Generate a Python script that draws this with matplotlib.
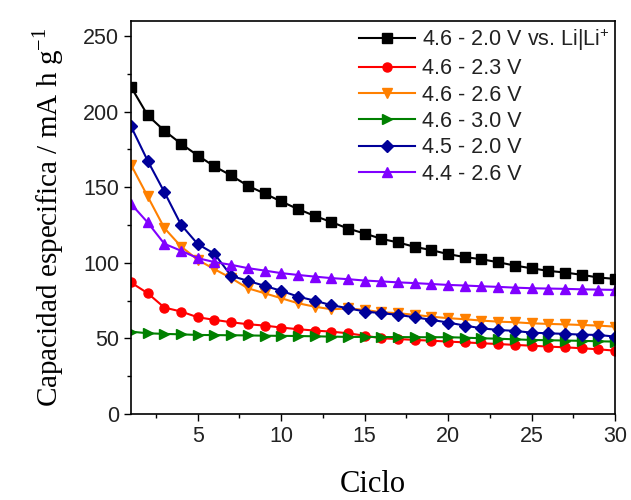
import matplotlib
matplotlib.use("Agg")
import matplotlib.pyplot as plt
from matplotlib.ticker import MultipleLocator

cycles = list(range(1, 31))

cap_46_20 = [216.4, 197.6, 187.4, 178.8, 171.0, 163.8, 157.8, 151.0, 145.9, 140.6,
             135.6, 131.1, 127.0, 122.7, 119.4, 115.9, 113.5, 110.6, 108.4, 105.8,
             103.8, 102.4, 100.4, 98.2, 96.4, 94.7, 93.6, 92.1, 90.3, 89.4]
cap_46_23 = [87.0, 79.9, 70.4, 67.8, 64.0, 62.3, 60.7, 59.4, 58.5, 57.2,
             56.1, 55.2, 54.5, 53.4, 51.8, 50.1, 49.6, 49.0, 48.5, 47.9,
             47.4, 46.8, 46.3, 45.7, 45.2, 44.6, 44.1, 43.5, 42.8, 41.9]
cap_46_26 = [164.9, 143.9, 123.0, 110.8, 102.0, 95.8, 89.9, 83.2, 79.9, 76.6,
             73.3, 71.0, 69.3, 69.8, 68.9, 67.3, 66.7, 65.6, 64.4, 63.4,
             62.7, 61.8, 61.1, 60.7, 60.0, 59.6, 59.3, 58.9, 58.5, 57.8]
cap_46_30 = [54.5, 53.4, 53.0, 52.7, 52.3, 52.2, 52.1, 52.0, 51.8, 51.7,
             51.6, 51.4, 51.2, 51.0, 51.0, 50.9, 50.9, 50.8, 50.8, 50.8,
             50.5, 50.1, 49.8, 49.4, 49.0, 48.8, 48.6, 48.4, 48.1, 47.9]
cap_45_20 = [190.3, 167.5, 146.8, 125.2, 112.4, 106.0, 91.4, 88.1, 84.8, 81.5,
             77.7, 75.0, 72.0, 70.0, 67.8, 66.7, 65.6, 64.0, 62.3, 60.5,
             58.5, 56.7, 55.6, 55.0, 53.8, 53.4, 53.0, 52.5, 52.3, 51.2]
cap_44_26 = [139.0, 126.7, 112.6, 108.0, 103.1, 100.5, 98.7, 96.5, 94.9, 93.2,
             92.0, 90.9, 89.9, 89.2, 88.3, 87.7, 87.1, 86.6, 86.0, 85.4,
             85.0, 84.5, 84.1, 83.6, 83.2, 83.0, 82.8, 82.5, 82.3, 82.1]

labels = ["4.6 - 2.0 V vs. Li|Li$^{+}$", "4.6 - 2.3 V", "4.6 - 2.6 V",
          "4.6 - 3.0 V", "4.5 - 2.0 V", "4.4 - 2.6 V"]
series = [cap_46_20, cap_46_23, cap_46_26, cap_46_30, cap_45_20, cap_44_26]
colors = ["#000000", "#ff0000", "#ff8000", "#008000", "#000099", "#8000ff"]
markers = ["s", "o", "v", ">", "D", "^"]
msizes = [6.5, 6.5, 7.5, 7.5, 6, 7.5]

plt.rcParams['font.family'] = ['Liberation Sans', 'DejaVu Sans']
plt.rcParams['mathtext.fontset'] = 'custom'
plt.rcParams['mathtext.rm'] = 'Liberation Sans'

fig = plt.figure(figsize=(6.31, 5.0), dpi=100)
ax = fig.add_axes([131/631, 1-414/500, (615-131)/631, (414-21)/500])

for y, lab, c, m, ms in zip(series, labels, colors, markers, msizes):
    ax.plot(cycles, y, color=c, marker=m, markersize=ms, linewidth=1.5, label=lab)

ax.set_xlim(1, 30)
ax.set_ylim(0, 260)
ax.xaxis.set_major_locator(MultipleLocator(5))
ax.xaxis.set_minor_locator(MultipleLocator(2.5))
ax.yaxis.set_major_locator(MultipleLocator(50))
ax.yaxis.set_minor_locator(MultipleLocator(25))
ax.set_xticks([5, 10, 15, 20, 25, 30])
ax.tick_params(axis='both', which='major', direction='out', length=5, width=1,
               labelsize=15.5, labelcolor='#222222', top=False, right=False)
ax.tick_params(axis='both', which='minor', direction='out', length=3, width=1,
               top=False, right=False)
for s in ax.spines.values():
    s.set_linewidth(1.2)

ax.set_xlabel("Ciclo", fontdict={'family': 'Liberation Serif', 'size': 22}, labelpad=17)
ax.set_ylabel("Capacidad especifica / mA h g$^{\\mathregular{-1}}$",
              fontdict={'family': 'Liberation Serif', 'size': 21}, labelpad=12)

leg = ax.legend(loc='upper right', frameon=False, fontsize=15.5, handlelength=2.6,
                labelspacing=0.25, borderaxespad=0.1, handletextpad=0.3, borderpad=0.15)
for t in leg.get_texts():
    t.set_color('#222222')

fig.savefig("out.png", dpi=100)
